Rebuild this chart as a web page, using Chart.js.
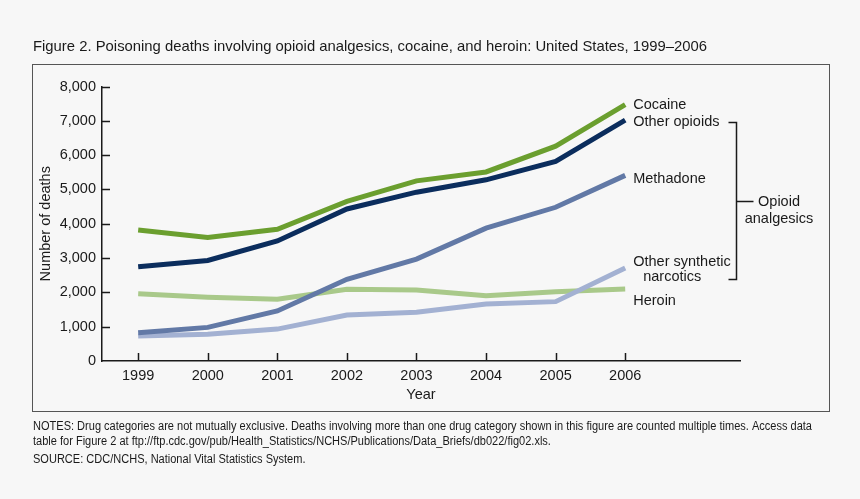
<!DOCTYPE html>
<html>
<head>
<meta charset="utf-8">
<script src="https://cdn.jsdelivr.net/npm/chart.js@4.4.0/dist/chart.umd.min.js"></script>
<style>
  html, body { margin: 0; padding: 0; background: #f7f7f7; }
  #wrap { width: 860px; height: 499px; }
</style>
</head>
<body>
<div id="wrap"><canvas id="c" width="860" height="499"></canvas></div>
<script>
const years = [1999, 2000, 2001, 2002, 2003, 2004, 2005, 2006];
const cocaine = [3820, 3600, 3840, 4650, 5250, 5510, 6260, 7470];
const otherOpioids = [2750, 2930, 3500, 4430, 4920, 5280, 5820, 7020];
const methadone = [820, 980, 1460, 2380, 2970, 3870, 4480, 5410];
const otherSynthetic = [730, 780, 930, 1340, 1420, 1660, 1730, 2710];
const heroin = [1960, 1860, 1800, 2090, 2070, 1900, 2020, 2100];
const yTicks = [0, 1000, 2000, 3000, 4000, 5000, 6000, 7000, 8000];

const titleText = 'Figure 2. Poisoning deaths involving opioid analgesics, cocaine, and heroin: United States, 1999\u20132006';
const notesLines = [
  'NOTES: Drug categories are not mutually exclusive. Deaths involving more than one drug category shown in this figure are counted multiple times. Access data',
  'table for Figure 2 at ftp://ftp.cdc.gov/pub/Health_Statistics/NCHS/Publications/Data_Briefs/db022/fig02.xls.',
  'SOURCE: CDC/NCHS, National Vital Statistics System.'
];

const FONT = '"Liberation Sans", Arial, Helvetica, sans-serif';
const TXT = '#1a1a1a';
const FS = 14.5;

function pts(arr) { return years.map((y, i) => ({ x: y, y: arr[i] })); }

const series = [
  { label: 'Cocaine', data: cocaine, color: '#6b9f2f', lines: [['Cocaine', 0, 0]] },
  { label: 'Other opioids', data: otherOpioids, color: '#0b2d5d', lines: [['Other opioids', 0, 2]] },
  { label: 'Methadone', data: methadone, color: '#6279a6', lines: [['Methadone', 0, 4]] },
  { label: 'Other synthetic narcotics', data: otherSynthetic, color: '#a3b1d2', lines: [['Other synthetic', 0, -6], ['narcotics', 10, 9]] },
  { label: 'Heroin', data: heroin, color: '#a9c98a', lines: [['Heroin', 0, 12]] }
];

const deco = {
  id: 'deco',
  beforeDraw(chart) {
    const ctx = chart.ctx;
    ctx.save();
    ctx.fillStyle = '#f7f7f7';
    ctx.fillRect(0, 0, chart.width, chart.height);
    ctx.strokeStyle = '#555';
    ctx.lineWidth = 1;
    ctx.strokeRect(32.5, 64.5, 797, 347);
    ctx.restore();
  },
  afterDraw(chart) {
    const ctx = chart.ctx;
    const xs = chart.scales.x, ys = chart.scales.y;
    const area = chart.chartArea;
    ctx.save();
    // inward ticks
    ctx.strokeStyle = '#1a1a1a';
    ctx.lineWidth = 1.5;
    ctx.beginPath();
    years.forEach(v => {
      const px = Math.round(xs.getPixelForValue(v)) + 0.5;
      ctx.moveTo(px, area.bottom);
      ctx.lineTo(px, area.bottom - 8);
    });
    yTicks.forEach(v => {
      if (v === 0) return;
      const py = Math.round(ys.getPixelForValue(v)) + 0.5;
      ctx.moveTo(area.left, py);
      ctx.lineTo(area.left + 8, py);
    });
    ctx.stroke();

    // end labels
    ctx.fillStyle = TXT;
    ctx.font = FS + 'px ' + FONT;
    ctx.textBaseline = 'middle';
    ctx.textAlign = 'left';
    series.forEach((s, i) => {
      const meta = chart.getDatasetMeta(i);
      const p = meta.data[meta.data.length - 1];
      s.lines.forEach(([t, dx, dy]) => {
        ctx.fillText(t, p.x + 8 + dx, p.y + dy);
      });
    });

    // bracket for opioid analgesics
    const pOp = chart.getDatasetMeta(1).data[7];
    const pSy = chart.getDatasetMeta(3).data[7];
    const top = Math.round(pOp.y + 2) + 0.5;
    const bot = Math.round(pSy.y + 11) + 0.5;
    const bx = 736.5;
    const mid = Math.round((top + bot) / 2) + 0.5;
    ctx.lineWidth = 1.5;
    ctx.beginPath();
    ctx.moveTo(bx - 8, top); ctx.lineTo(bx, top); ctx.lineTo(bx, bot); ctx.lineTo(bx - 8, bot);
    ctx.moveTo(bx, mid); ctx.lineTo(bx + 17, mid);
    ctx.stroke();
    ctx.textAlign = 'center';
    ctx.fillText('Opioid', 779, mid);
    ctx.fillText('analgesics', 779, mid + 17);

    // title
    ctx.textAlign = 'left';
    ctx.font = '15px ' + FONT;
    const tw = ctx.measureText(titleText).width;
    const tScale = 674 / tw;
    ctx.save();
    ctx.translate(33, 47);
    ctx.scale(tScale, 1);
    ctx.fillText(titleText, 0, 0);
    ctx.restore();

    // notes
    ctx.font = '12px ' + FONT;
    const nw = ctx.measureText(notesLines[0]).width;
    const nScale = 779 / nw;
    const ny = [427, 442, 460];
    notesLines.forEach((t, i) => {
      ctx.save();
      ctx.translate(33, ny[i]);
      ctx.scale(nScale, 1);
      ctx.fillText(t, 0, 0);
      ctx.restore();
    });
    ctx.restore();
  }
};

new Chart(document.getElementById('c'), {
  type: 'line',
  data: {
    datasets: series.map(s => ({
      label: s.label,
      data: pts(s.data),
      borderColor: s.color,
      backgroundColor: s.color,
      borderWidth: 5,
      pointRadius: 0,
      tension: 0,
      fill: false
    }))
  },
  options: {
    responsive: false,
    animation: false,
    devicePixelRatio: 1,
    layout: { padding: { left: 34, top: 86.5, right: 120, bottom: 91 } },
    plugins: { legend: { display: false }, tooltip: { enabled: false } },
    scales: {
      x: {
        type: 'linear',
        min: 1998.48,
        max: 2007.65,
        afterBuildTicks: s => { s.ticks = years.map(v => ({ value: v })); },
        afterFit: s => { s.height = 47; },
        ticks: { callback: v => String(v), font: { size: FS, family: FONT }, color: TXT, padding: 6, maxRotation: 0, autoSkip: false },
        grid: { display: false, drawTicks: false },
        border: { display: true, color: '#1a1a1a', width: 1.5 },
        title: { display: true, text: 'Year', font: { size: FS, family: FONT }, color: TXT, padding: { top: 0, bottom: 4 } }
      },
      y: {
        min: 0,
        max: 8000,
        afterBuildTicks: s => { s.ticks = yTicks.map(v => ({ value: v })); },
        afterFit: s => { s.width = 68; },
        ticks: { callback: v => v.toLocaleString('en-US'), font: { size: FS, family: FONT }, color: TXT, padding: 6 },
        grid: { display: false, drawTicks: false },
        border: { display: true, color: '#1a1a1a', width: 1.5 },
        title: { display: true, text: 'Number of deaths', font: { size: FS, family: FONT }, color: TXT, padding: { top: 3, bottom: 0 } }
      }
    }
  },
  plugins: [deco]
});
</script>
</body>
</html>
